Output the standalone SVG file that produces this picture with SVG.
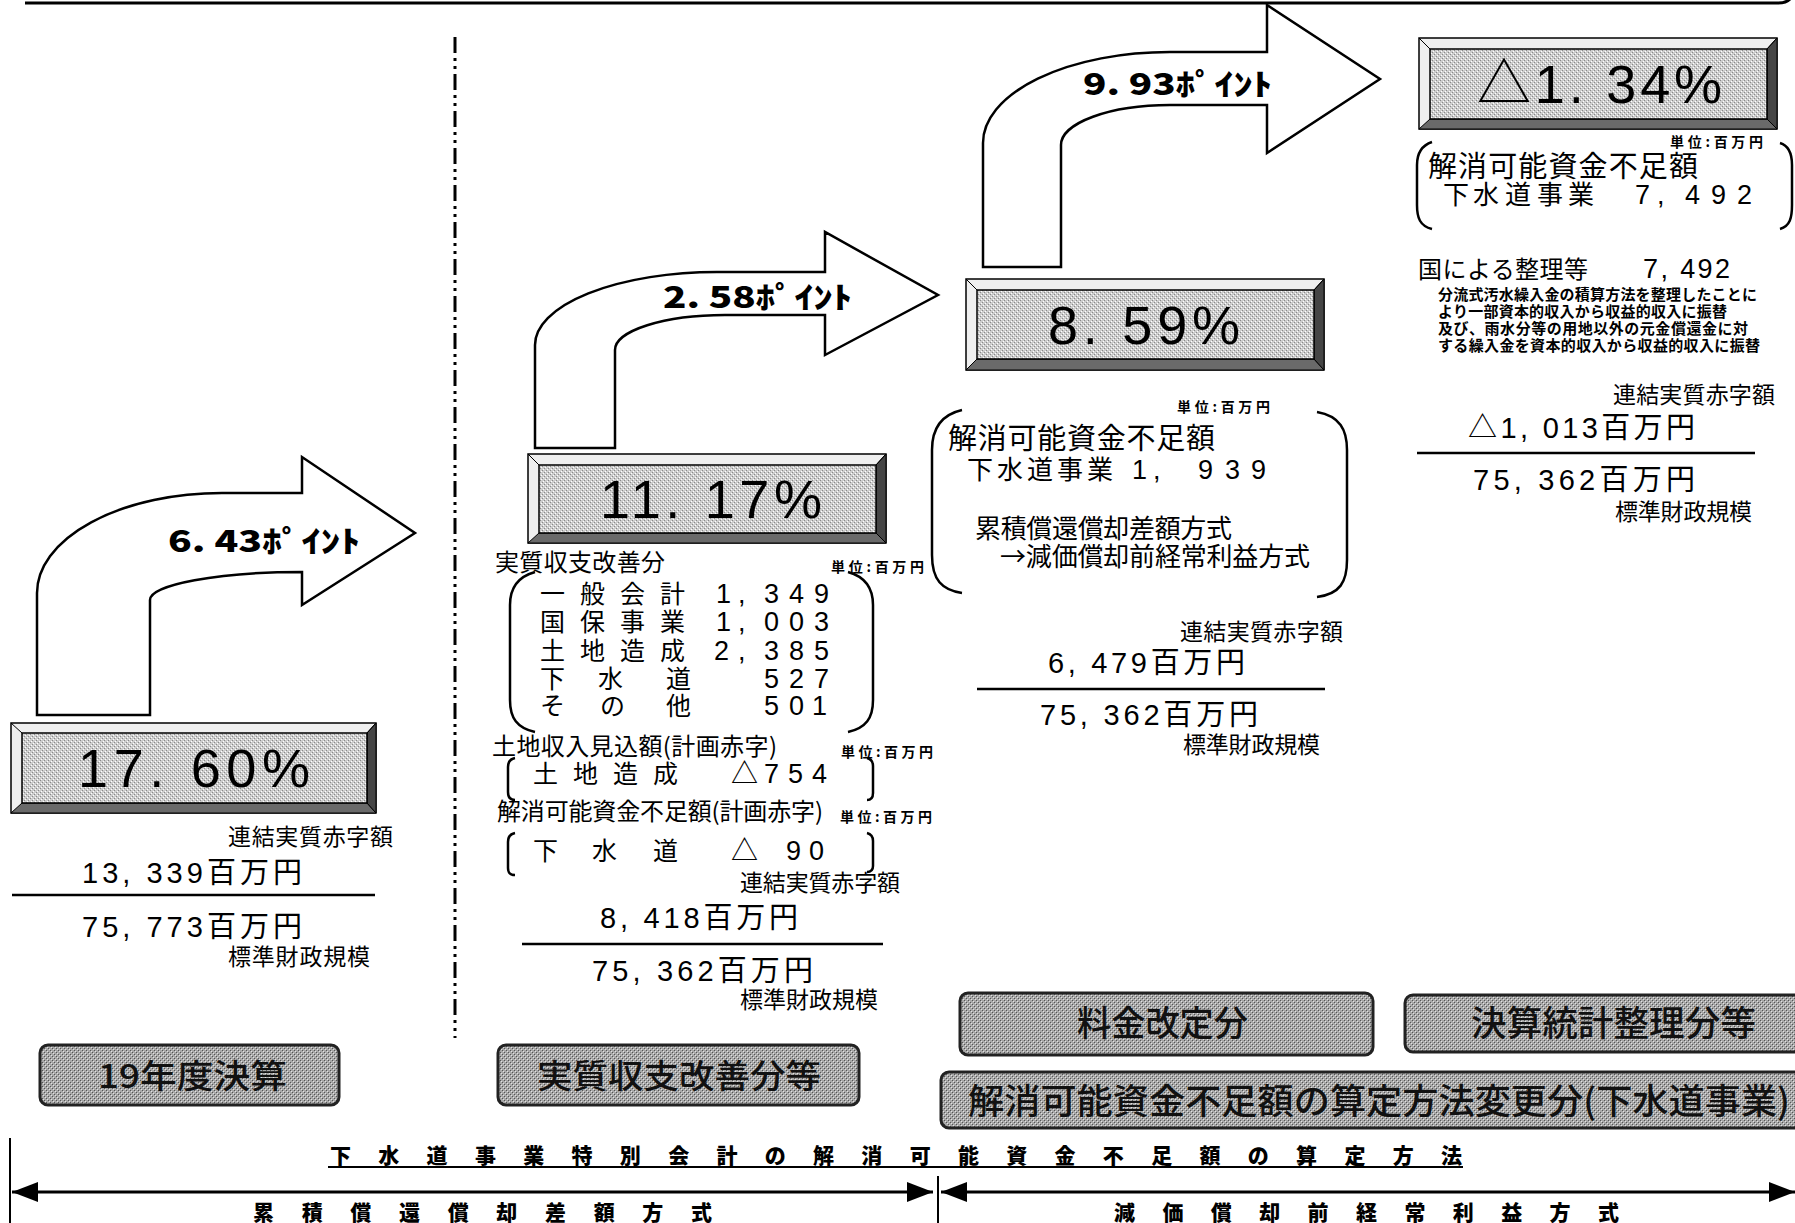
<svg xmlns="http://www.w3.org/2000/svg" width="1795" height="1223" viewBox="0 0 1795 1223">
<style>
.m{font-family:"Liberation Sans","Noto Sans CJK JP",sans-serif;fill:#000}
.j{font-family:"Noto Sans CJK JP",sans-serif;fill:#000}
.pct{font-family:"Liberation Sans","Noto Sans CJK JP",sans-serif;font-size:54px;fill:#000}
.pt{font-family:"Noto Sans CJK JP",sans-serif;font-weight:900;font-size:30px;fill:#000}
.u{font-family:"Noto Sans CJK JP",sans-serif;font-weight:700;font-size:14px;fill:#000}
.btn{font-family:"Noto Sans CJK JP",sans-serif;font-weight:500;fill:#111}
.hd{font-family:"Noto Sans CJK JP",sans-serif;font-weight:900;font-size:21px;fill:#000}
.ln{stroke:#000;stroke-width:2.5;fill:none}
.br{stroke:#000;stroke-width:2.5;fill:none}
.arr{fill:#fff;stroke:#000;stroke-width:2.5;stroke-linejoin:miter}
.bo{fill:#efefef;stroke:#000;stroke-width:1.5}
.bb{fill:#6a6a6a;stroke:#000;stroke-width:1}
.bd{fill:#454545;stroke:#000;stroke-width:1}
.bi{fill:url(#tex);stroke:#000;stroke-width:1.5}
.bx{fill:url(#texd);stroke:#222;stroke-width:3}
</style>
<defs>
<pattern id="tex" width="4" height="4" patternUnits="userSpaceOnUse">
<rect width="4" height="4" fill="#cdcdcd"/>
<rect x="0" y="0" width="1" height="1" fill="#8a8a8a"/>
<rect x="2" y="2" width="1" height="1" fill="#8a8a8a"/>
<rect x="1" y="3" width="1" height="1" fill="#ffffff"/>
<rect x="3" y="1" width="1" height="1" fill="#ffffff"/>
</pattern>
<pattern id="texd" width="4" height="4" patternUnits="userSpaceOnUse">
<rect width="4" height="4" fill="#a8a8a8"/>
<rect x="0" y="0" width="1" height="1" fill="#555"/>
<rect x="2" y="2" width="1" height="1" fill="#555"/>
<rect x="1" y="1" width="1" height="1" fill="#e2e2e2"/>
<rect x="3" y="3" width="1" height="1" fill="#e2e2e2"/>
</pattern>
<marker id="ah" markerWidth="26" markerHeight="20" refX="26" refY="10" orient="auto-start-reverse" markerUnits="userSpaceOnUse">
<path d="M0,0 L26,10 L0,20 Z" fill="#000"/>
</marker>
</defs>
<rect width="1795" height="1223" fill="#fff"/>

<g id="connectors">
<path class="arr" d="M37,715 L37,593 A185,100 0 0 1 222,493 L302,493 L302,457 L415,533 L302,605 L302,572 A152,28 0 0 0 150,600 L150,715 Z"/>
<path class="arr" d="M535,448 L535,345 A182,73 0 0 1 717,272 L825,272 L825,232 L938,295 L825,355 L825,315 L725,315 A110,35 0 0 0 615,350 L615,448 Z"/>
<path class="arr" d="M983,267 L983,143 A187,91 0 0 1 1170,52 L1267,52 L1267,5 L1380,79 L1267,153 L1267,105 L1170,105 A109,40 0 0 0 1061,145 L1061,267 Z"/>
<line x1="12" y1="1192" x2="933" y2="1192" stroke="#000" stroke-width="3" marker-start="url(#ah)" marker-end="url(#ah)"/>
<line x1="941" y1="1192" x2="1795" y2="1192" stroke="#000" stroke-width="3" marker-start="url(#ah)" marker-end="url(#ah)"/>
</g>

<g id="frame">
<path d="M25,3 L1778,3 Q1790,3 1793,-6" stroke="#000" stroke-width="3" fill="none"/>
<line x1="455" y1="37" x2="455" y2="1038" stroke="#000" stroke-width="3" stroke-dasharray="16 5 3 5 3 5"/>
<line x1="10" y1="1138" x2="10" y2="1223" stroke="#000" stroke-width="2"/>
<line x1="938" y1="1176" x2="938" y2="1223" stroke="#000" stroke-width="2"/>
</g>

<g id="label-643">
<text class="pt" x="168" y="552" textLength="192" lengthAdjust="spacingAndGlyphs">6. 43ﾎﾟｲﾝﾄ</text>
</g>
<g id="label-258">
<text class="pt" x="663" y="308" textLength="189" lengthAdjust="spacingAndGlyphs">2. 58ﾎﾟｲﾝﾄ</text>
</g>
<g id="label-993">
<text class="pt" x="1083" y="95" textLength="189" lengthAdjust="spacingAndGlyphs">9. 93ﾎﾟｲﾝﾄ</text>
</g>

<g id="box-1760">
<rect class="bo" x="11" y="723" width="365" height="90"/>
<polygon class="bb" points="11,813 376,813 367,803 22,803"/>
<polygon class="bd" points="376,723 376,813 367,803 367,733"/>
<rect class="bi" x="22" y="733" width="345" height="70"/>
<path d="M11,723 L22,733 M376,723 L367,733" stroke="#000" stroke-width="1"/>
<text class="pct" x="78" y="787" textLength="232" lengthAdjust="spacing">17. 60%</text>
</g>

<g id="box-1117">
<rect class="bo" x="528" y="454" width="358" height="89"/>
<polygon class="bb" points="528,543 886,543 876,533 539,533"/>
<polygon class="bd" points="886,454 886,543 876,533 876,465"/>
<rect class="bi" x="539" y="465" width="337" height="68"/>
<path d="M528,454 L539,465 M886,454 L876,465" stroke="#000" stroke-width="1"/>
<text class="pct" x="600" y="518" textLength="222" lengthAdjust="spacing">11. 17%</text>
</g>

<g id="box-859">
<rect class="bo" x="966" y="279" width="358" height="91"/>
<polygon class="bb" points="966,370 1324,370 1314,359 977,359"/>
<polygon class="bd" points="1324,279 1324,370 1314,359 1314,290"/>
<rect class="bi" x="977" y="290" width="337" height="69"/>
<path d="M966,279 L977,290 M1324,279 L1314,290" stroke="#000" stroke-width="1"/>
<text class="pct" x="1048" y="344" textLength="192" lengthAdjust="spacing">8. 59%</text>
</g>

<g id="box-134">
<rect class="bo" x="1419" y="38" width="358" height="91"/>
<polygon class="bb" points="1419,129 1777,129 1767,119 1430,119"/>
<polygon class="bd" points="1777,38 1777,129 1767,119 1767,49"/>
<rect class="bi" x="1430" y="49" width="337" height="70"/>
<path d="M1419,38 L1430,49 M1777,38 L1767,49" stroke="#000" stroke-width="1"/>
<text class="pct" x="1477" y="103" textLength="245" lengthAdjust="spacing">△1. 34%</text>
</g>

<g id="detail-1">
<text class="j" x="228" y="845" font-size="23" textLength="165" lengthAdjust="spacing">連結実質赤字額</text>
<text class="m" x="82" y="883" font-size="29" textLength="220" lengthAdjust="spacing">13, 339百万円</text>
<line class="ln" x1="12" y1="895" x2="375" y2="895"/>
<text class="m" x="82" y="937" font-size="29" textLength="220" lengthAdjust="spacing">75, 773百万円</text>
<text class="j" x="228" y="965" font-size="23" textLength="142" lengthAdjust="spacing">標準財政規模</text>
</g>

<g id="detail-2">
<text class="j" x="495" y="571" font-size="24" textLength="170" lengthAdjust="spacing">実質収支改善分</text>
<text class="u" x="831" y="572" textLength="93" lengthAdjust="spacing">単位:百万円</text>
<path class="br" d="M535,572 C517,577 510,590 510,605 L510,700 C510,718 517,728 535,732"/>
<path class="br" d="M848,572 C866,577 873,590 873,605 L873,700 C873,718 866,728 848,732"/>
<text class="j" font-size="25" x="540 580 620 660" y="603">一般会計</text>
<text class="m" font-size="27" x="716 738 764 789 814" y="603">1,349</text>
<text class="j" font-size="25" x="540 580 620 660" y="631">国保事業</text>
<text class="m" font-size="27" x="716 738 764 789 814" y="631">1,003</text>
<text class="j" font-size="25" x="540 580 620 660" y="660">土地造成</text>
<text class="m" font-size="27" x="714 738 764 789 814" y="660">2,385</text>
<text class="j" font-size="25" x="540 598 666" y="688">下水道</text>
<text class="m" font-size="27" x="764 789 814" y="688">527</text>
<text class="j" font-size="25" x="540 600 666" y="715">その他</text>
<text class="m" font-size="27" x="764 789 812" y="715">501</text>

<text class="j" x="492" y="755" font-size="24" textLength="285" lengthAdjust="spacing">土地収入見込額(計画赤字)</text>
<text class="u" x="841" y="757" textLength="92" lengthAdjust="spacing">単位:百万円</text>
<path class="br" d="M515,758 C510,759 508,762 508,767 L508,792 C508,797 510,800 515,800"/>
<path class="br" d="M867,758 C871,759 873,762 873,766 L873,793 C873,797 871,800 867,800"/>
<text class="j" font-size="25" x="533 573 613 653" y="783">土地造成</text>
<text class="m" font-size="27" x="731 764 788 812" y="783">△754</text>

<text class="j" x="497" y="820" font-size="24" textLength="326" lengthAdjust="spacing">解消可能資金不足額(計画赤字)</text>
<text class="u" x="840" y="822" textLength="92" lengthAdjust="spacing">単位:百万円</text>
<path class="br" d="M515,833 C510,834 508,837 508,842 L508,868 C508,873 510,875 515,875"/>
<path class="br" d="M867,833 C871,834 873,837 873,841 L873,866 C873,870 871,872 867,872"/>
<text class="j" font-size="25" x="533 592 653" y="860">下水道</text>
<text class="m" font-size="27" x="731 786 809" y="860">△90</text>

<text class="j" x="740" y="891" font-size="23" textLength="160" lengthAdjust="spacing">連結実質赤字額</text>
<text class="m" x="600" y="928" font-size="29" textLength="198" lengthAdjust="spacing">8, 418百万円</text>
<line class="ln" x1="522" y1="944" x2="883" y2="944"/>
<text class="m" x="592" y="981" font-size="29" textLength="221" lengthAdjust="spacing">75, 362百万円</text>
<text class="j" x="740" y="1008" font-size="23" textLength="138" lengthAdjust="spacing">標準財政規模</text>
</g>

<g id="detail-3">
<text class="u" x="1177" y="412" textLength="93" lengthAdjust="spacing">単位:百万円</text>
<path class="br" d="M962,410 C940,415 932,430 932,450 L932,555 C932,580 942,590 962,593"/>
<path class="br" d="M1317,412 C1340,416 1347,430 1347,450 L1347,560 C1347,582 1340,594 1317,597"/>
<text class="j" x="948" y="449" font-size="29" textLength="267" lengthAdjust="spacing">解消可能資金不足額</text>
<text class="j" font-size="26" x="967 997 1027 1057 1087" y="479">下水道事業</text>
<text class="m" font-size="27" x="1132 1153 1198 1225 1251" y="479">1,939</text>
<text class="j" x="975" y="538" font-size="26" textLength="257" lengthAdjust="spacing">累積償還償却差額方式</text>
<text class="j" x="1000" y="566" font-size="26" textLength="310" lengthAdjust="spacing">→減価償却前経常利益方式</text>
<text class="j" x="1180" y="640" font-size="23" textLength="163" lengthAdjust="spacing">連結実質赤字額</text>
<text class="m" x="1048" y="673" font-size="29" textLength="197" lengthAdjust="spacing">6, 479百万円</text>
<line class="ln" x1="977" y1="689" x2="1325" y2="689"/>
<text class="m" x="1040" y="725" font-size="29" textLength="218" lengthAdjust="spacing">75, 362百万円</text>
<text class="j" x="1183" y="753" font-size="23" textLength="137" lengthAdjust="spacing">標準財政規模</text>
</g>

<g id="detail-4">
<text class="u" x="1670" y="147" textLength="93" lengthAdjust="spacing">単位:百万円</text>
<path class="br" d="M1432,142 C1420,146 1417,155 1417,165 L1417,205 C1417,218 1420,226 1432,229"/>
<path class="br" d="M1780,143 C1790,146 1792,155 1792,165 L1792,205 C1792,218 1790,226 1780,229"/>
<text class="j" x="1428" y="177" font-size="29" textLength="270" lengthAdjust="spacing">解消可能資金不足額</text>
<text class="j" font-size="26" x="1443 1473 1505 1537 1568" y="204">下水道事業</text>
<text class="m" font-size="27" x="1635 1657 1685 1711 1737" y="204">7,492</text>
<text class="j" x="1418" y="278" font-size="24" textLength="170" lengthAdjust="spacing">国による整理等</text>
<text class="m" x="1643" y="278" font-size="27" textLength="87" lengthAdjust="spacing">7, 492</text>
<text class="j" x="1438" y="300" font-size="15" font-weight="700" textLength="319" lengthAdjust="spacing">分流式汚水繰入金の積算方法を整理したことに</text>
<text class="j" x="1438" y="317" font-size="15" font-weight="700" textLength="289" lengthAdjust="spacing">より一部資本的収入から収益的収入に振替</text>
<text class="j" x="1438" y="334" font-size="15" font-weight="700" textLength="310" lengthAdjust="spacing">及び、雨水分等の用地以外の元金償還金に対</text>
<text class="j" x="1438" y="351" font-size="15" font-weight="700" textLength="322" lengthAdjust="spacing">する繰入金を資本的収入から収益的収入に振替</text>
<text class="j" x="1613" y="403" font-size="23" textLength="162" lengthAdjust="spacing">連結実質赤字額</text>
<text class="m" x="1468" y="438" font-size="29" textLength="227" lengthAdjust="spacing">△1, 013百万円</text>
<line class="ln" x1="1417" y1="453" x2="1755" y2="453"/>
<text class="m" x="1473" y="490" font-size="29" textLength="222" lengthAdjust="spacing">75, 362百万円</text>
<text class="j" x="1615" y="520" font-size="23" textLength="137" lengthAdjust="spacing">標準財政規模</text>
</g>

<g id="btn-19">
<rect class="bx" x="40" y="1045" width="299" height="60" rx="8"/>
<text class="btn" x="98" y="1088" font-size="33" textLength="189" lengthAdjust="spacingAndGlyphs">19年度決算</text>
</g>
<g id="btn-jisshitsu">
<rect class="bx" x="498" y="1045" width="361" height="60" rx="8"/>
<text class="btn" x="537" y="1088" font-size="33" textLength="284" lengthAdjust="spacingAndGlyphs">実質収支改善分等</text>
</g>
<g id="btn-ryokin">
<rect class="bx" x="960" y="993" width="413" height="62" rx="8"/>
<text class="btn" x="1077" y="1036" font-size="35" textLength="171" lengthAdjust="spacingAndGlyphs">料金改定分</text>
</g>
<g id="btn-kessan">
<rect class="bx" x="1405" y="995" width="400" height="57" rx="8"/>
<text class="btn" x="1471" y="1036" font-size="35" textLength="285" lengthAdjust="spacingAndGlyphs">決算統計整理分等</text>
</g>
<g id="btn-henkou">
<rect class="bx" x="941" y="1072" width="870" height="56" rx="8"/>
<text class="btn" x="968" y="1114" font-size="35" textLength="822" lengthAdjust="spacingAndGlyphs">解消可能資金不足額の算定方法変更分(下水道事業)</text>
</g>

<g id="method-labels">
<text class="hd" x="330" y="1163" textLength="1132" lengthAdjust="spacing">下水道事業特別会計の解消可能資金不足額の算定方法</text>
<line x1="328" y1="1167" x2="1463" y2="1167" stroke="#000" stroke-width="2"/>
<text class="hd" x="253" y="1220" font-size="21" textLength="459" lengthAdjust="spacing">累積償還償却差額方式</text>
<text class="hd" x="1114" y="1220" font-size="21" textLength="505" lengthAdjust="spacing">減価償却前経常利益方式</text>
</g>
</svg>
